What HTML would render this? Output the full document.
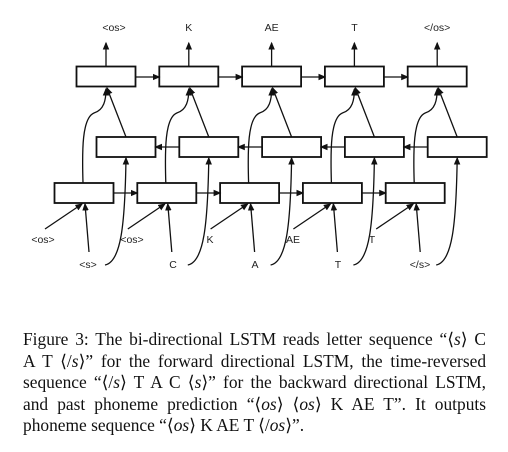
<!DOCTYPE html>
<html><head><meta charset="utf-8"><style>
body{margin:0;width:508px;height:452px;background:#fff;overflow:hidden}
#cap{position:absolute;left:23px;top:329px;width:463px;font-family:"Liberation Serif",serif;font-size:17.4px;line-height:21.6px;color:#111}
#cap div{white-space:nowrap;text-align:justify;text-align-last:justify;height:21.6px}
#cap div.last{text-align-last:left}
svg text{font-family:"Liberation Sans",sans-serif;font-size:10.5px;fill:#222}
</style></head><body>
<svg width="508" height="300" style="position:absolute;left:0;top:0">
<defs><marker id="ah" markerWidth="6" markerHeight="6" refX="5" refY="3" orient="auto"><path d="M0,0.5 L6,3 L0,5.5z" fill="#111"/></marker></defs>
<g id="g" stroke="#111" stroke-width="1.3" fill="none"></g>
<g id="t"></g>
</svg>
<div id="cap">
<div>Figure 3: The bi-directional LSTM reads letter sequence “⟨<i>s</i>⟩ C</div>
<div>A T ⟨/<i>s</i>⟩” for the forward directional LSTM, the time-reversed</div>
<div>sequence “⟨/<i>s</i>⟩ T A C ⟨<i>s</i>⟩” for the backward directional LSTM,</div>
<div>and past phoneme prediction “⟨<i>os</i>⟩ ⟨<i>os</i>⟩ K AE T”. It outputs</div>
<div class="last">phoneme sequence “⟨<i>os</i>⟩ K AE T ⟨/<i>os</i>⟩”.</div>
</div>
<script>
const outputs=["<os>","K","AE","T","</os>"];
const pastPhon=["<os>","<os>","K","AE","T"];
const letters=["<s>","C","A","T","</s>"];
const g=document.getElementById('g'),t=document.getElementById('t');
const NS="http://www.w3.org/2000/svg";
function el(tag,a,p){const e=document.createElementNS(NS,tag);for(const k in a)e.setAttribute(k,a[k]);(p||g).appendChild(e);return e;}
function txt(s,x,y,name){const e=el('text',{x:x,y:y,'text-anchor':'middle'},t);e.textContent=s;

}
const step=82.8,W=59,H=20;
for(let i=0;i<5;i++){
 const ct=106+i*step, cm=126+i*step, cb=84+i*step;
 const b1=el('rect',{x:ct-W/2,y:66.5,width:W,height:H,'stroke-width':1.8});
 
 
 const b2=el('rect',{x:cm-W/2,y:137,width:W,height:H,'stroke-width':1.8});
 
 
 const b3=el('rect',{x:cb-W/2,y:183,width:W,height:H,'stroke-width':1.8});
 
 
 el('line',{x1:ct,y1:66,x2:ct,y2:43,'marker-end':'url(#ah)'});
 txt(outputs[i],ct+(i==0?8:0),31,'output-label');
 if(i<4){
  el('line',{x1:ct+W/2,y1:77,x2:ct+step-W/2,y2:77,'marker-end':'url(#ah)'});
  el('line',{x1:cb+W/2,y1:193,x2:cb+step-W/2,y2:193,'marker-end':'url(#ah)'});
  el('line',{x1:cm+step-W/2,y1:147,x2:cm+W/2,y2:147,'marker-end':'url(#ah)'});
 }
 el('line',{x1:cm,y1:137,x2:ct+1,y2:88,'marker-end':'url(#ah)'});
 el('path',{d:`M${cb-1},183 C${cb-2},150 ${cb-2},118 ${cb+10},113 C${ct-2},110 ${ct},100 ${ct},89`,'marker-end':'url(#ah)'});
 el('line',{x1:cb-39,y1:229,x2:cb-2,y2:204,'marker-end':'url(#ah)'});
 el('line',{x1:cb+5,y1:252,x2:cb+1,y2:204,'marker-end':'url(#ah)'});
 el('path',{d:`M${cb+21},265 C${cm-5},262 ${cm-1},225 ${cm},158`,'marker-end':'url(#ah)'});
 txt(pastPhon[i],[43,132,210,293,372][i],243,'past-phoneme-label');
 txt(letters[i],[88,173,255,338,420][i],268,'letter-label');
}
</script>
</body></html>
